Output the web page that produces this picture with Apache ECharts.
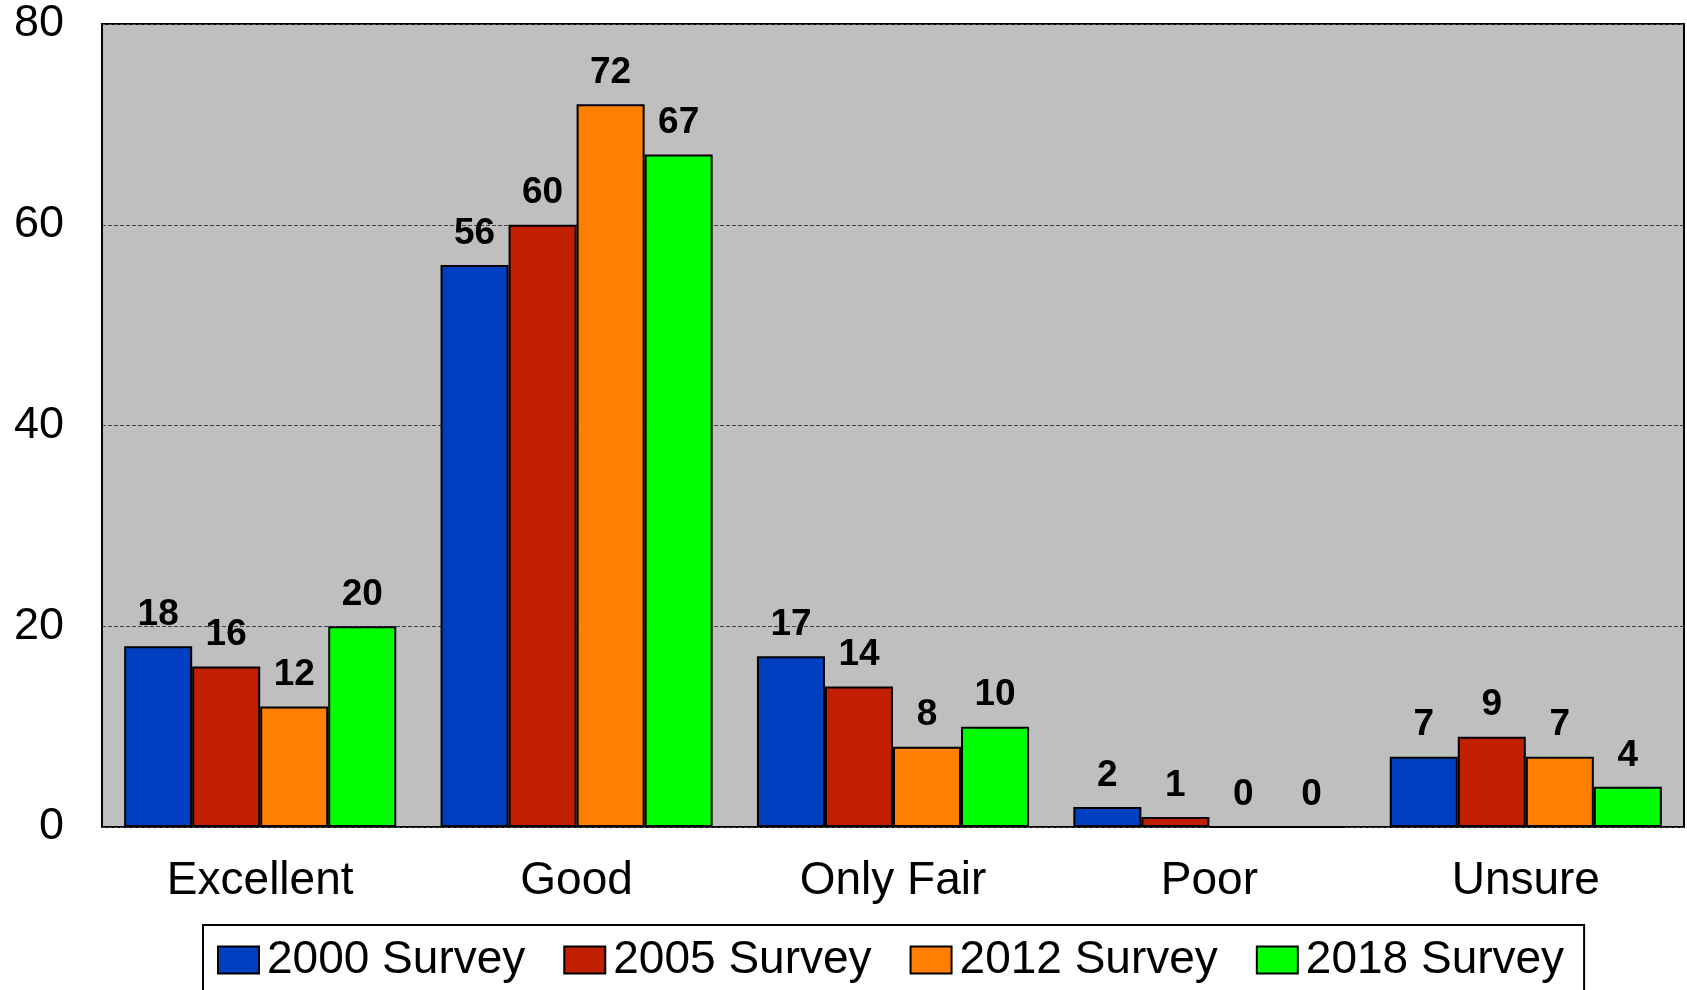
<!DOCTYPE html>
<html>
<head>
<meta charset="utf-8">
<title>Survey ratings</title>
<script src="https://cdn.jsdelivr.net/npm/echarts@6/dist/echarts.min.js"></script>
<style>
  html, body { margin: 0; padding: 0; background: #fff; }
  #chart { width: 1687px; height: 990px; }
</style>
</head>
<body>
<div id="chart"></div>
<script>
// categories and series values
const categories = ['Excellent', 'Good', 'Only Fair', 'Poor', 'Unsure']
const surveyNames = ['2000 Survey', '2005 Survey', '2012 Survey', '2018 Survey']
const survey2000 = [18, 56, 17, 2, 7]
const survey2005 = [16, 60, 14, 1, 9]
const survey2012 = [12, 72, 8, 0, 7]
const survey2018 = [20, 67, 10, 0, 4]
const yTicks = [0, 20, 40, 60, 80]

const colors = ['#0040C0', '#C02000', '#FF8000', '#00FF00']
const font = "'Liberation Sans', Arial, sans-serif"

const chart = echarts.init(document.getElementById('chart'))

// 每个系列的柱子样式一致
const makeSeries = (name, data) => ({
  name: name,
  type: 'bar',
  data: data,
  barGap: '0%',
  barCategoryGap: '14%',
  itemStyle: {
    borderColor: '#000',
    borderWidth: 2
  },
  label: {
    show: true,
    position: 'top',
    distance: 13,
    fontFamily: font,
    fontWeight: 'bold',
    fontSize: 37,
    color: '#000'
  }
})

const option = {
  animation: false,
  color: colors,
  textStyle: { fontFamily: font },
  grid: {
    left: 102,
    right: 3,
    top: 24,
    bottom: 163,
    show: true,
    backgroundColor: '#BFBFBF',
    borderColor: '#000',
    borderWidth: 2
  },
  legend: {
    data: surveyNames,
    left: 203,
    top: 925,
    orient: 'horizontal',
    itemWidth: 41,
    itemHeight: 27,
    itemGap: 38,
    padding: [12, 20, 12, 14],
    borderColor: '#000',
    borderWidth: 2,
    backgroundColor: '#fff',
    icon: 'rect',
    textStyle: {
      fontFamily: font,
      fontSize: 46,
      color: '#000',
      padding: [0, 0, 0, 3]
    }
  },
  xAxis: {
    type: 'category',
    data: categories,
    axisLine: { show: false },
    axisTick: { show: false },
    axisLabel: {
      margin: 31,
      fontFamily: font,
      fontSize: 46,
      color: '#000'
    }
  },
  yAxis: {
    type: 'value',
    min: yTicks[0],
    max: yTicks[yTicks.length - 1],
    interval: 20,
    axisLine: { show: false },
    axisTick: { show: false },
    axisLabel: {
      margin: 38,
      fontFamily: font,
      fontSize: 45,
      color: '#000'
    },
    splitLine: {
      show: true,
      lineStyle: {
        color: '#404040',
        width: 1,
        type: [4, 2]
      }
    }
  },
  series: [
    makeSeries(surveyNames[0], survey2000),
    makeSeries(surveyNames[1], survey2005),
    makeSeries(surveyNames[2], survey2012),
    makeSeries(surveyNames[3], survey2018)
  ]
}

chart.setOption(option)
</script>
</body>
</html>
